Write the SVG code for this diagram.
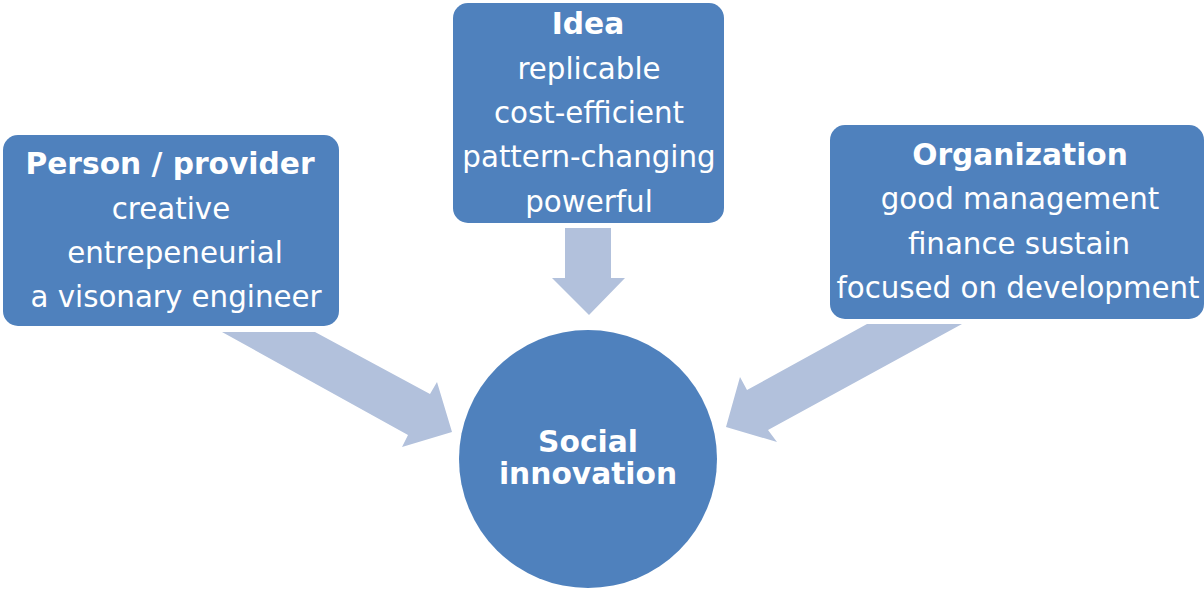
<svg xmlns="http://www.w3.org/2000/svg" width="1204" height="589" viewBox="0 0 1204 589">
  <style>
    .box { fill: #4F81BD; }
    .arrow { fill: #B2C1DC; }
    text { font-family: "DejaVu Sans", Verdana, sans-serif; font-size: 29.3px; fill: #FFFFFF; text-anchor: middle; }
    .b { font-weight: bold; font-size: 29.7px; }
  </style>
  <rect width="1204" height="589" fill="#FFFFFF"/>

  <g id="connectors">
    <!-- from Person / provider -->
    <polygon class="arrow" points="222,332 315,332 430,394 437,382 452,432 402,447 408,435"/>
    <!-- from Idea -->
    <polygon class="arrow" points="565,228 611,228 611,278 625,278 589,315 552,278 565,278"/>
    <!-- from Organization -->
    <polygon class="arrow" points="962,324 867,324 747,390 740,377 726,427 777,442 768,430"/>
  </g>

  <g id="person">
    <rect class="box" x="3" y="135" width="336" height="191" rx="15"/>
    <text class="b" x="170" y="174">Person / provider</text>
    <text x="171" y="219">creative</text>
    <text x="175" y="263">entrepeneurial</text>
    <text x="176" y="307">a visonary engineer</text>
  </g>

  <g id="idea">
    <rect class="box" x="453" y="3" width="271" height="220" rx="15"/>
    <text class="b" x="588" y="34">Idea</text>
    <text x="589" y="79">replicable</text>
    <text x="589" y="123">cost-efficient</text>
    <text x="589" y="167">pattern-changing</text>
    <text x="589" y="212">powerful</text>
  </g>

  <g id="organization">
    <rect class="box" x="830" y="125" width="374" height="194" rx="15"/>
    <text class="b" x="1020" y="165">Organization</text>
    <text x="1020" y="209">good management</text>
    <text x="1019" y="254">finance sustain</text>
    <text x="1018" y="298">focused on development</text>
  </g>

  <g id="social-innovation">
    <circle class="box" cx="588" cy="459" r="129"/>
    <text class="b" x="588" y="452">Social</text>
    <text class="b" x="588" y="484">innovation</text>
  </g>
</svg>
